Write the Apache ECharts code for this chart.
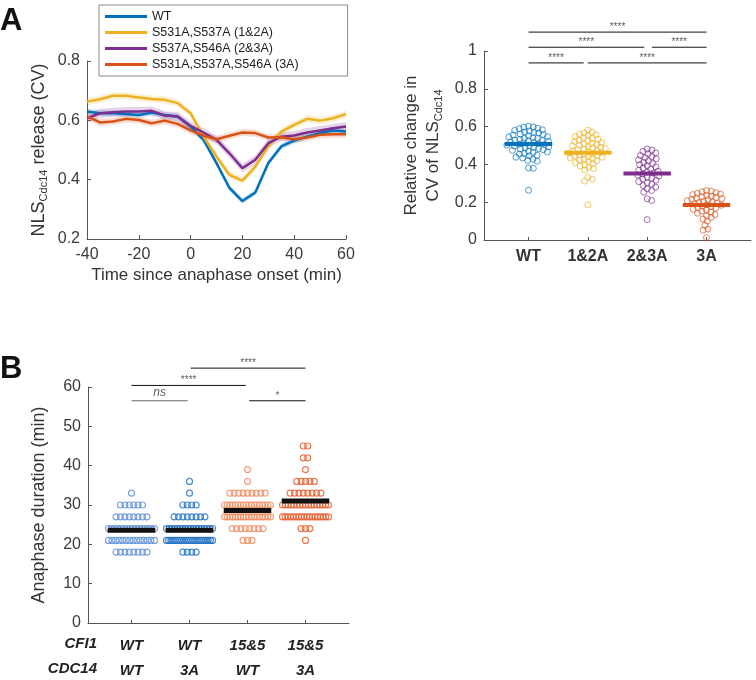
<!DOCTYPE html>
<html lang="en">
<head>
    <meta charset="UTF-8">
    <title>NLS Cdc14 release</title>
    <script src="https://cdn.jsdelivr.net/npm/echarts@6/dist/echarts.min.js"></script>
    <style>
        body{ margin: 0; background: #fff; }
        #container{ width: 756px; height: 680px; }
    </style>
</head>
<body>
<div id="container"></div>
<script>
    var FONT = "'Liberation Sans', Arial, Helvetica, sans-serif";

    // panel A, left: release curves
    var timeMin = [-40,-35,-30,-25,-20,-15,-10,-5,0,5,10,15,20,25,30,35,40,45,50,55,60];
    var lineNames = ['WT', 'S531A,S537A (1&2A)', 'S537A,S546A (2&3A)', 'S531A,S537A,S546A (3A)'];
    var cvWT  = [0.630,0.624,0.624,0.621,0.618,0.626,0.618,0.613,0.579,0.534,0.456,0.372,0.328,0.357,0.456,0.512,0.532,0.545,0.557,0.566,0.562];
    var cv12A = [0.663,0.671,0.683,0.683,0.677,0.672,0.669,0.658,0.624,0.545,0.478,0.416,0.397,0.444,0.512,0.562,0.585,0.605,0.599,0.607,0.621];
    var cv23A = [0.607,0.624,0.627,0.630,0.630,0.632,0.616,0.613,0.581,0.559,0.534,0.489,0.439,0.467,0.523,0.545,0.549,0.559,0.566,0.573,0.579];
    var cv3A  = [0.613,0.593,0.596,0.605,0.601,0.590,0.599,0.588,0.566,0.548,0.536,0.548,0.559,0.557,0.542,0.543,0.536,0.542,0.551,0.553,0.553];
    var cvSem = [0.010, 0.012, 0.015, 0.012];

    // panel A, right: relative change per cell
    var relCats = ['WT', '1&2A', '2&3A', '3A'];
    var relWT  = [0.602,0.598,0.597,0.591,0.589,0.583,0.580,0.577,0.571,0.569,0.566,0.560,0.558,0.556,0.551,0.547,0.546,0.541,0.538,0.537,0.532,0.529,0.527,0.524,0.522,0.518,0.516,0.513,0.510,0.507,0.505,0.502,0.499,0.497,0.493,0.490,0.488,0.484,0.481,0.478,0.474,0.470,0.466,0.463,0.458,0.455,0.449,0.445,0.438,0.434,0.428,0.421,0.417,0.381,0.379,0.263];
    var rel12A = [0.582,0.571,0.566,0.559,0.556,0.552,0.547,0.541,0.538,0.533,0.529,0.524,0.521,0.516,0.512,0.508,0.505,0.501,0.498,0.494,0.491,0.487,0.484,0.480,0.477,0.473,0.470,0.467,0.463,0.460,0.457,0.454,0.451,0.447,0.444,0.441,0.438,0.435,0.431,0.427,0.423,0.419,0.414,0.409,0.404,0.398,0.392,0.385,0.378,0.370,0.331,0.322,0.312,0.186];
    var rel23A = [0.481,0.476,0.469,0.461,0.456,0.447,0.441,0.436,0.430,0.424,0.418,0.411,0.405,0.399,0.393,0.387,0.381,0.375,0.369,0.364,0.359,0.354,0.349,0.344,0.339,0.333,0.328,0.322,0.316,0.309,0.302,0.295,0.288,0.280,0.271,0.262,0.253,0.218,0.209,0.108];
    var rel3A  = [0.262,0.258,0.255,0.251,0.247,0.243,0.240,0.236,0.232,0.229,0.225,0.222,0.219,0.215,0.212,0.208,0.205,0.201,0.198,0.194,0.191,0.187,0.184,0.180,0.176,0.172,0.168,0.163,0.158,0.153,0.148,0.142,0.135,0.128,0.120,0.111,0.100,0.078,0.058,0.052,0.012];
    var relMeans = [0.508, 0.462, 0.352, 0.185];

    // panel B: anaphase duration, counts of cells per 3-min bin
    var durBins = [18,21,24,27,30,33,36,39,42,45];
    var durN1 = [8,14,16,8,6,1,0,0,0,0];
    var durN2 = [4,22,18,8,4,1,1,0,0,0];
    var durN3 = [0,3,8,18,18,9,1,1,0,0];
    var durN4 = [0,1,3,18,17,8,5,1,2,2];
    var durMeans = [23.6, 23.6, 28.6, 31.0];
    var cfiLabels = ['WT', 'WT', '15&5', '15&5'];
    var cdcLabels = ['WT', '3A', 'WT', '3A'];

    // significance bars: [from, to, level, text]
    var sigA = [[1, 1.93, 0.937, '****'], [2.0, 4, 0.937, '****'], [1, 2.95, 1.02, '****'], [3.08, 4, 1.02, '****'], [1, 4, 1.10, '****']];
    var sigB = [[1, 1.97, 56.5, 'ns'], [3.03, 4, 56.5, '*'], [1, 2.97, 60.4, '****'], [2.02, 4, 64.8, '****']];

    var lineColors = ['#0072BD', '#EDB120', '#7E2F8E', '#D95319'];
    var durColors = ['#5b8fd8', '#1f6fc2', '#f08a5d', '#e65a28'];

    // grid boxes (px)
    var gA1 = {left: 87, top: 61, width: 259, height: 178};
    var gA2 = {left: 484, top: 51, width: 267, height: 189};
    var gB  = {left: 88, top: 387, width: 261, height: 236};

    function axisBase(extra){
        var a = {
            axisLine: {show: true, onZero: false, lineStyle: {color: '#555', width: 1}},
            axisTick: {show: true, inside: true, length: 4, lineStyle: {color: '#555'}},
            axisLabel: {color: '#3a3a3a', fontSize: 16, fontFamily: FONT},
            splitLine: {show: false},
            nameTextStyle: {color: '#333', fontSize: 17, fontFamily: FONT}
        };
        for (var k in extra) a[k] = extra[k];
        return a;
    }

    // simple beeswarm: x offsets (axis units) so circles don't overlap
    function swarm(vals, pxY, pxX, d){
        var order = vals.map(function(v, i){ return i; }).sort(function(a, b){ return vals[b] - vals[a]; });
        var placed = [];
        var out = [];
        order.forEach(function(i){
            var y = vals[i] * pxY;
            var near = placed.filter(function(p){ return Math.abs(p.y - y) < d; });
            var cands = [0];
            near.forEach(function(p){
                var h = Math.sqrt(d * d - (p.y - y) * (p.y - y));
                cands.push(p.x + h, p.x - h);
            });
            cands.sort(function(a, b){ return Math.abs(a) - Math.abs(b); });
            var x = 0;
            for (var k = 0; k < cands.length; k++) {
                var c = cands[k];
                var ok = near.every(function(p){
                    var dx = p.x - c, dy = p.y - y;
                    return dx * dx + dy * dy >= d * d - 0.01;
                });
                if (ok) { x = c; break; }
            }
            placed.push({x: x, y: y});
            out[i] = x / pxX;
        });
        return out;
    }

    // rows of equally spaced circles for binned values
    function rows(counts, pxX){
        var pts = [];
        counts.forEach(function(n, b){
            var s = n > 1 ? Math.min(4.4, 46 / (n - 1)) : 0;
            for (var k = 0; k < n; k++) {
                pts.push([(k - (n - 1) / 2) * s / pxX, durBins[b]]);
            }
        });
        return pts;
    }

    function hBar(xi, yi, x1, x2, y, color, width, z){
        return {type: 'line', xAxisIndex: xi, yAxisIndex: yi, data: [[x1, y], [x2, y]], symbol: 'none',
            lineStyle: {color: color, width: width}, clip: false, silent: true, z: z, animation: false};
    }

    function sigSeries(list, xi, yi, fontSize){
        var out = [];
        list.forEach(function(s){
            var isNs = s[3] === 'ns';
            out.push(hBar(xi, yi, s[0], s[1], s[2], isNs ? '#666' : '#111', 1, 5));
            out.push({type: 'scatter', xAxisIndex: xi, yAxisIndex: yi, clip: false, silent: true,
                data: [[(s[0] + s[1]) / 2, s[2]]], symbolSize: 0,
                label: {show: true, position: 'top', distance: isNs ? 2 : 0, formatter: s[3],
                    fontSize: isNs ? 12 : fontSize, fontStyle: isNs ? 'italic' : 'normal',
                    color: '#333', fontFamily: FONT}});
        });
        return out;
    }

    // shaded sem band drawn as one polygon through the axis scale
    function bandSeries(mean, sem, color){
        return {type: 'custom', xAxisIndex: 0, yAxisIndex: 0, silent: true, z: 1,
            data: timeMin.map(function(t, k){ return [t, mean[k] - sem, mean[k] + sem]; }),
            encode: {x: 0, y: [1, 2]},
            renderItem: function(params, api){
                if (params.dataIndex !== 0) return null;
                var up = [], lo = [];
                for (var k = 0; k < timeMin.length; k++) {
                    up.push(api.coord([timeMin[k], mean[k] + sem]));
                    lo.unshift(api.coord([timeMin[k], mean[k] - sem]));
                }
                return {type: 'polygon', shape: {points: up.concat(lo)},
                    style: {fill: color, opacity: 0.2}};
            }};
    }

    function update(){
        var dom = document.getElementById('container');
        var myChart = echarts.init(dom);
        var cvAll = [cvWT, cv12A, cv23A, cv3A];
        var relAll = [relWT, rel12A, rel23A, rel3A];
        var durAll = [durN1, durN2, durN3, durN4];
        var series = [];

        // A1: shaded bands then lines
        cvAll.forEach(function(d, i){
            series.push(bandSeries(d, cvSem[i], lineColors[i]));
        });
        cvAll.forEach(function(d, i){
            series.push({type: 'line', name: lineNames[i], xAxisIndex: 0, yAxisIndex: 0, symbol: 'none',
                color: lineColors[i],
                data: timeMin.map(function(t, k){ return [t, d[k]]; }),
                lineStyle: {color: lineColors[i], width: 2.5}, z: 3});
        });

        // A2: swarms + mean bars
        var pxYA2 = gA2.height / 1, pxXA2 = gA2.width / 4.5;
        relAll.forEach(function(vals, i){
            var off = swarm(vals, pxYA2, pxXA2, 4.8);
            series.push({type: 'scatter', xAxisIndex: 1, yAxisIndex: 1, symbol: 'circle', symbolSize: 6,
                data: vals.map(function(v, k){ return [i + 1 + off[k], v]; }),
                itemStyle: {color: 'rgba(255,255,255,0)', borderColor: lineColors[i], borderWidth: 1, opacity: 0.7}, z: 2});
            series.push(hBar(1, 1, i + 1 - 0.4, i + 1 + 0.4, relMeans[i], lineColors[i], 4, 4));
        });
        series = series.concat(sigSeries(sigA, 1, 1, 10));

        // B: binned rows + mean bars
        var pxXB = gB.width / 4.5;
        durAll.forEach(function(counts, i){
            series.push({type: 'scatter', xAxisIndex: 2, yAxisIndex: 2, symbol: 'circle', symbolSize: 6,
                data: rows(counts, pxXB).map(function(p){ return [i + 1 + p[0], p[1]]; }),
                itemStyle: {color: 'rgba(255,255,255,0)', borderColor: durColors[i], borderWidth: 1.2}, z: 2});
            series.push(hBar(2, 2, i + 1 - 0.41, i + 1 + 0.41, durMeans[i], '#111', 5, 4));
        });
        series = series.concat(sigSeries(sigB, 2, 2, 10));

        var option = {
            animation: false,
            textStyle: {fontFamily: FONT},
            grid: [
                {left: gA1.left, top: gA1.top, width: gA1.width, height: gA1.height, outerBoundsMode: 'none'},
                {left: gA2.left, top: gA2.top, width: gA2.width, height: gA2.height, outerBoundsMode: 'none'},
                {left: gB.left, top: gB.top, width: gB.width, height: gB.height, outerBoundsMode: 'none'}
            ],
            legend: {
                data: lineNames, orient: 'vertical', left: 99, top: 5,
                icon: 'rect', itemWidth: 42, itemHeight: 3, itemGap: 3,
                padding: [5, 49, 5, 6],
                borderColor: '#8a8a8a', borderWidth: 1, backgroundColor: '#fff',
                textStyle: {fontSize: 12.5, color: '#222', fontFamily: FONT},
                selectedMode: false
            },
            xAxis: [
                axisBase({gridIndex: 0, type: 'value', min: -40, max: 60, interval: 20,
                    name: 'Time since anaphase onset (min)', nameLocation: 'middle', nameGap: 28,
                    axisLabel: {color: '#3a3a3a', fontSize: 16, fontFamily: FONT, margin: 8}}),
                axisBase({gridIndex: 1, type: 'value', min: 0.25, max: 4.75,
                    axisTick: {show: true, inside: true, length: 3, customValues: [1, 2, 3, 4], lineStyle: {color: '#555'}},
                    axisLabel: {customValues: [1, 2, 3, 4], margin: 9, fontSize: 16, fontWeight: 'bold', color: '#333', fontFamily: FONT,
                        formatter: function(v){ return relCats[Math.round(v) - 1]; }}}),
                axisBase({gridIndex: 2, type: 'value', min: 0.25, max: 4.75,
                    axisTick: {show: true, inside: true, length: 3, customValues: [1, 2, 3, 4], lineStyle: {color: '#555'}},
                    axisLabel: {customValues: [1, 2, 3, 4], margin: 10, fontSize: 15, fontWeight: 'bold', fontStyle: 'italic',
                        lineHeight: 25, color: '#222', fontFamily: FONT,
                        formatter: function(v){ var i = Math.round(v) - 1; return cfiLabels[i] + '\n' + cdcLabels[i]; }}})
            ],
            yAxis: [
                axisBase({gridIndex: 0, type: 'value', min: 0.2, max: 0.8, interval: 0.2,
                    name: '{n|NLS}{s|Cdc14}{n| release (CV)}', nameLocation: 'middle', nameGap: 38, nameRotate: 90,
                    nameTextStyle: {rich: {
                        n: {fontSize: 18, lineHeight: 20, color: '#333', fontFamily: FONT},
                        s: {fontSize: 11, lineHeight: 11, verticalAlign: 'bottom', color: '#333', fontFamily: FONT}}},
                    axisLabel: {color: '#3a3a3a', fontSize: 16, fontFamily: FONT, margin: 7,
                        formatter: function(v){ return v.toFixed(1); }}}),
                axisBase({gridIndex: 1, type: 'value', min: 0, max: 1, interval: 0.2,
                    name: '{n|Relative change in}\n{n|CV of NLS}{s|Cdc14}', nameLocation: 'middle', nameGap: 40, nameRotate: 90,
                    nameTextStyle: {rich: {
                        n: {fontSize: 17, lineHeight: 22, color: '#333', fontFamily: FONT},
                        s: {fontSize: 11, lineHeight: 12, verticalAlign: 'bottom', color: '#333', fontFamily: FONT}}},
                    axisLabel: {color: '#3a3a3a', fontSize: 16, fontFamily: FONT, margin: 7,
                        formatter: function(v){ return String(Math.round(v * 10) / 10); }}}),
                axisBase({gridIndex: 2, type: 'value', min: 0, max: 60, interval: 10,
                    name: 'Anaphase duration (min)', nameLocation: 'middle', nameGap: 40, nameRotate: 90,
                    nameTextStyle: {fontSize: 18, color: '#333', fontFamily: FONT},
                    axisLabel: {color: '#3a3a3a', fontSize: 16, fontFamily: FONT, margin: 7}})
            ],
            graphic: [
                {type: 'text', left: 0, top: 6, style: {text: 'A', font: 'bold 31px ' + FONT, fill: '#111'}},
                {type: 'text', left: 0, top: 354, style: {text: 'B', font: 'bold 31px ' + FONT, fill: '#111'}},
                {type: 'text', right: 659, top: 636, style: {text: 'CFI1', font: 'italic bold 15px ' + FONT, fill: '#222'}},
                {type: 'text', right: 659, top: 661, style: {text: 'CDC14', font: 'italic bold 15px ' + FONT, fill: '#222'}}
            ],
            series: series
        };
        myChart.setOption(option, true);
    }

    update();
</script>
</body>
</html>
